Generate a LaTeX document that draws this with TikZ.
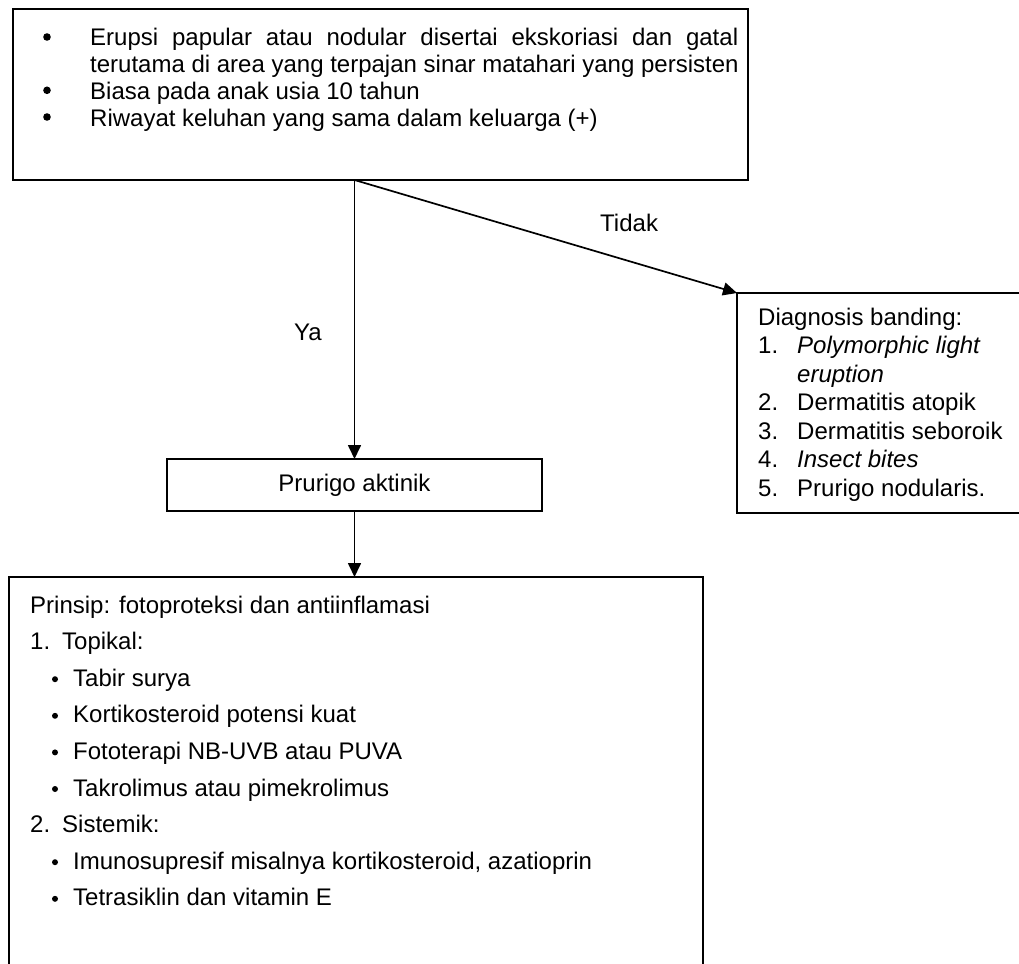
\documentclass[tikz,border=0pt]{standalone}
\usepackage{fontspec}
\setmainfont{Liberation Sans}
\usetikzlibrary{arrows.meta}
\begin{document}
\begin{tikzpicture}[x=1pt,y=-1pt,
  frame/.style={draw, line width=1.7pt, inner sep=0pt, outer sep=0pt, anchor=north west},
  txt/.style={inner sep=0pt, anchor=base west, font=\fontsize{24pt}{28pt}\selectfont},
  bul/.style={circle, fill, inner sep=0pt, minimum size=7.6pt},
  sbul/.style={circle, fill, inner sep=0pt, minimum size=6pt},
  arr/.style={line width=1.7pt, -{Triangle[length=14pt,width=13pt]}},
]
\useasboundingbox (0,0) rectangle (1019,963);
\clip (0,0) rectangle (1019,963);
\fill[white] (0,0) rectangle (1019,963);

% frames
\node[frame, minimum width=735pt, minimum height=171pt] (gejala) at (13,9) {};
\node[frame, minimum width=375pt, minimum height=52pt,
      font=\fontsize{24pt}{28pt}\selectfont] (prurigo) at (167,459) {Prurigo aktinik};
\node[frame, minimum width=330pt, minimum height=220pt] (banding) at (737,293) {};
\node[frame, minimum width=694pt, minimum height=430pt] (terapi) at (9,577) {};

% connectors
\coordinate (cabang) at (prurigo.north |- gejala.south);
\draw[arr] (cabang) -- (prurigo.north);
\draw[arr] (cabang) -- (banding.north west);
\draw[arr] (prurigo.south) -- (prurigo.south |- terapi.north);
\node[txt] (tidak) at (600,231) {Tidak};
\node[txt] (ya) at (294,340) {Ya};

% criteria
\node[bul] (g1b) at (47,37) {};
\node[txt] (g1) at (90,46) {\makebox[648pt][s]{Erupsi papular atau nodular disertai ekskoriasi dan gatal}};
\node[txt] (g1x) at (90,72.7) {terutama di area yang terpajan sinar matahari yang persisten};
\node[bul] (g2b) at (47,90.3) {};
\node[txt] (g2) at (90,99.3) {Biasa pada anak usia 10 tahun};
\node[bul] (g3b) at (47,117) {};
\node[txt] (g3) at (90,126) {Riwayat keluhan yang sama dalam keluarga (+)};

% differential diagnosis
\node[txt] (d0) at (758,325) {Diagnosis banding:};
\node[txt] (d1n) at (758,353.5) {1.};
\node[txt] (d1) at (797,353.5) {\itshape Polymorphic light};
\node[txt] (d1x) at (797,382) {\itshape eruption};
\node[txt] (d2n) at (758,410.5) {2.};
\node[txt] (d2) at (797,410.5) {Dermatitis atopik};
\node[txt] (d3n) at (758,439) {3.};
\node[txt] (d3) at (797,439) {Dermatitis seboroik};
\node[txt] (d4n) at (758,467.5) {4.};
\node[txt] (d4) at (797,467.5) {\itshape Insect bites};
\node[txt] (d5n) at (758,496) {5.};
\node[txt] (d5) at (797,496) {Prurigo nodularis.};

% therapy
\node[txt] (t0) at (30,613) {Prinsip: fotoproteksi dan antiinflamasi};
\node[txt] (t1n) at (30,649.6) {1.};
\node[txt] (t1) at (62,649.6) {Topikal:};
\node[sbul] (t1ab) at (55,679.2) {};
\node[txt] (t1a) at (73,686.2) {Tabir surya};
\node[sbul] (t1bb) at (55,715.8) {};
\node[txt] (t1b) at (73,722.8) {Kortikosteroid potensi kuat};
\node[sbul] (t1cb) at (55,752.4) {};
\node[txt] (t1c) at (73,759.4) {Fototerapi NB-UVB atau PUVA};
\node[sbul] (t1db) at (55,789) {};
\node[txt] (t1d) at (73,796) {Takrolimus atau pimekrolimus};
\node[txt] (t2n) at (30,832.6) {2.};
\node[txt] (t2) at (62,832.6) {Sistemik:};
\node[sbul] (t2ab) at (55,862.2) {};
\node[txt] (t2a) at (73,869.2) {Imunosupresif misalnya kortikosteroid, azatioprin};
\node[sbul] (t2bb) at (55,898.8) {};
\node[txt] (t2b) at (73,905.8) {Tetrasiklin dan vitamin E};
\end{tikzpicture}
\end{document}
